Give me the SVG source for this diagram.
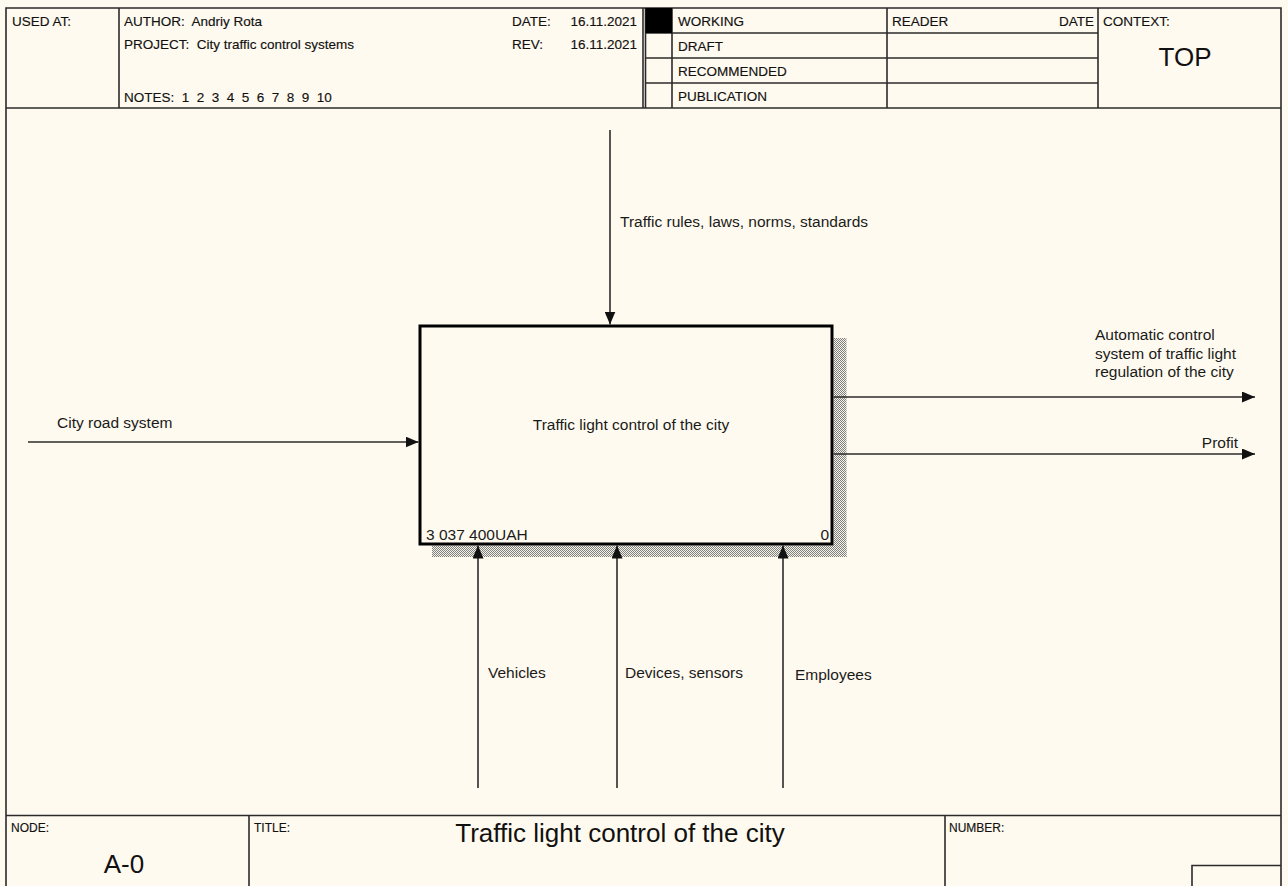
<svg xmlns="http://www.w3.org/2000/svg" width="1288" height="886" viewBox="0 0 1288 886">
<style>
  .frame { stroke: #2b2b2b; stroke-width: 1.6; fill: none; }
  .hdr { font-family: "Liberation Sans", Arial, sans-serif; font-size: 13.5px; fill: #111; stroke: #111; stroke-width: 0.15; }
  .ftr { font-family: "Liberation Sans", Arial, sans-serif; font-size: 12px; fill: #111; stroke: #111; stroke-width: 0.15; }
  .big { font-family: "Liberation Sans", Arial, sans-serif; font-size: 26px; fill: #111; }
  .lbl { font-family: "Liberation Sans", Arial, sans-serif; font-size: 15.5px; fill: #1a1a1a; }
  .conn { stroke: #2b2b2b; stroke-width: 1.6; fill: none; }
</style>
<defs>
  <pattern id="hatch" width="2" height="2" patternUnits="userSpaceOnUse">
    <rect width="2" height="2" fill="#f6f2e8"/>
    <rect x="0" y="0" width="1" height="1" fill="#808080"/>
    <rect x="1" y="1" width="1" height="1" fill="#808080"/>
  </pattern>
  <marker id="arrow" markerUnits="userSpaceOnUse" markerWidth="14" markerHeight="11" refX="13" refY="5.5" orient="auto">
    <path d="M0,0 L13,5.5 L0,11 z" fill="#111"/>
  </marker>
</defs>
<rect width="1288" height="886" fill="#fffaef"/>

<g id="frame">
  <path class="frame" d="M6,886 V8 H1281 V886"/>
  <line class="frame" x1="6" y1="108" x2="1281" y2="108"/>
  <line class="frame" x1="119" y1="8" x2="119" y2="108"/>
  <line class="frame" x1="643" y1="8" x2="643" y2="108"/>
  <line class="frame" x1="645.5" y1="8" x2="645.5" y2="108"/>
  <line class="frame" x1="672" y1="8" x2="672" y2="108"/>
  <line class="frame" x1="887" y1="8" x2="887" y2="108"/>
  <line class="frame" x1="1098" y1="8" x2="1098" y2="108"/>
  <line class="frame" x1="645.5" y1="33" x2="1098" y2="33"/>
  <line class="frame" x1="645.5" y1="58" x2="1098" y2="58"/>
  <line class="frame" x1="645.5" y1="83" x2="1098" y2="83"/>
  <rect x="645.5" y="8" width="26.5" height="25" fill="#000"/>
  <line class="frame" x1="6" y1="815.5" x2="1281" y2="815.5"/>
  <line class="frame" x1="249" y1="815.5" x2="249" y2="886"/>
  <line class="frame" x1="945" y1="815.5" x2="945" y2="886"/>
  <path class="frame" d="M1192,886 V865.5 H1281"/>
</g>

<g id="header-text">
  <text class="hdr" x="12" y="26">USED AT:</text>
  <text class="hdr" x="124" y="26" xml:space="preserve">AUTHOR:  Andriy Rota</text>
  <text class="hdr" x="124" y="48.5" xml:space="preserve">PROJECT:  City traffic control systems</text>
  <text class="hdr" x="124" y="102" xml:space="preserve">NOTES:  1  2  3  4  5  6  7  8  9  10</text>
  <text class="hdr" x="512" y="26">DATE:</text>
  <text class="hdr" x="637" y="26" text-anchor="end">16.11.2021</text>
  <text class="hdr" x="512" y="48.5">REV:</text>
  <text class="hdr" x="637" y="48.5" text-anchor="end">16.11.2021</text>
  <text class="hdr" x="678" y="26">WORKING</text>
  <text class="hdr" x="678" y="51">DRAFT</text>
  <text class="hdr" x="678" y="76">RECOMMENDED</text>
  <text class="hdr" x="678" y="101">PUBLICATION</text>
  <text class="hdr" x="892" y="26">READER</text>
  <text class="hdr" x="1094" y="26" text-anchor="end">DATE</text>
  <text class="hdr" x="1103" y="26">CONTEXT:</text>
  <text class="big" x="1185" y="66" text-anchor="middle">TOP</text>
</g>

<g id="footer-text">
  <text class="ftr" x="11" y="832">NODE:</text>
  <text class="big" x="124" y="873" text-anchor="middle">A-0</text>
  <text class="ftr" x="254" y="832">TITLE:</text>
  <text class="big" x="620" y="842" text-anchor="middle">Traffic light control of the city</text>
  <text class="ftr" x="949" y="832">NUMBER:</text>
</g>

<g id="node-A0">
  <rect x="833.5" y="338" width="13" height="219" fill="url(#hatch)"/>
  <rect x="432" y="545.5" width="414.5" height="11.5" fill="url(#hatch)"/>
  <rect x="420" y="326" width="412" height="218" fill="#fffaef" stroke="#000" stroke-width="3"/>
  <text class="lbl" x="631" y="430" text-anchor="middle">Traffic light control of the city</text>
  <text class="lbl" x="426" y="540">3 037 400UAH</text>
  <text class="lbl" x="829" y="540" text-anchor="end">0</text>
</g>

<g id="connectors">
  <line class="conn" x1="610" y1="130" x2="610" y2="324.5" marker-end="url(#arrow)"/>
  <line class="conn" x1="28" y1="442" x2="418.5" y2="442" marker-end="url(#arrow)"/>
  <line class="conn" x1="833.5" y1="397" x2="1255" y2="397" marker-end="url(#arrow)"/>
  <line class="conn" x1="833.5" y1="454" x2="1255" y2="454" marker-end="url(#arrow)"/>
  <line class="conn" x1="478" y1="788" x2="478" y2="545.5" marker-end="url(#arrow)"/>
  <line class="conn" x1="617" y1="788" x2="617" y2="545.5" marker-end="url(#arrow)"/>
  <line class="conn" x1="783" y1="788" x2="783" y2="545.5" marker-end="url(#arrow)"/>
</g>

<g id="connector-labels">
  <text class="lbl" x="620" y="227">Traffic rules, laws, norms, standards</text>
  <text class="lbl" x="57" y="428">City road system</text>
  <text class="lbl" x="1095" y="340">Automatic control</text>
  <text class="lbl" x="1095" y="358.5">system of traffic light</text>
  <text class="lbl" x="1095" y="377">regulation of the city</text>
  <text class="lbl" x="1238" y="448" text-anchor="end">Profit</text>
  <text class="lbl" x="488" y="678">Vehicles</text>
  <text class="lbl" x="625" y="678">Devices, sensors</text>
  <text class="lbl" x="795" y="680">Employees</text>
</g>
</svg>
